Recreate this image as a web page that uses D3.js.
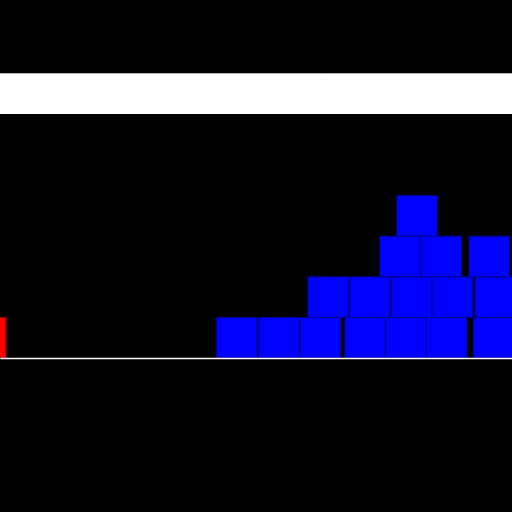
<!DOCTYPE html>
<html>
<head>
<meta charset="utf-8">
<script src="https://cdn.jsdelivr.net/npm/d3@7"></script>
<style>
  body { margin: 0; background: #000; }
  svg { display: block; }
</style>
</head>
<body>
<div id="chart"></div>
<script>
// blue points, in draw order (the stacking depends on it)
var blueValues = [46.27, 54.49, 62.56, 64.10, 71.29, 72.25, 78.13, 79.28, 80.41,
                  81.45, 86.17, 87.25, 88.38, 96.41, 96.74, 95.55];
// red points
var redValues = [-2.79];
// white band segment edges
var bandEdges = [0, 32.03, 41.99, 63.87, 100];

var width = 512, height = 512;
var baseline = 358;
var size = 40.6;

var svg = d3.select("#chart").append("svg")
    .attr("width", width)
    .attr("height", height);

svg.append("rect")
    .attr("width", width)
    .attr("height", height)
    .attr("fill", "#000");

var x = d3.scaleLinear()
    .domain([0, 100])
    .range([0, width]);

// band at the top
svg.append("g")
    .selectAll("rect")
    .data(d3.pairs(bandEdges))
    .enter()
    .append("rect")
    .attr("x", function (d) { return x(d[0]); })
    .attr("width", function (d) { return x(d[1]) - x(d[0]); })
    .attr("y", 73.3)
    .attr("height", 40.7)
    .attr("fill", "#fff");

// greedy stacking: lowest level with no overlapping square
function stack(values) {
    var levels = [];
    return values.map(function (v) {
        var px = x(v);
        var lvl = 0;
        while (levels[lvl] && levels[lvl].some(function (p) {
            return Math.abs(p - px) < size * 0.95;
        })) lvl++;
        if (!levels[lvl]) levels[lvl] = [];
        levels[lvl].push(px);
        return {value: v, level: lvl};
    });
}

function drawSquares(values, fill, stroke) {
    svg.append("g")
        .selectAll("rect")
        .data(stack(values))
        .enter()
        .append("rect")
        .attr("x", function (d) { return x(d.value) - size / 2; })
        .attr("y", function (d) { return baseline - (d.level + 1) * size; })
        .attr("width", size)
        .attr("height", size)
        .attr("fill", fill)
        .attr("stroke", stroke)
        .attr("stroke-width", 1);
}

drawSquares(blueValues, "#0000ff", "#00008b");
drawSquares(redValues, "#ff0000", "#8b0000");

// baseline
svg.append("g")
    .attr("transform", "translate(0," + baseline + ")")
    .call(d3.axisBottom(x).tickValues([]).tickSizeOuter(0))
    .select(".domain")
    .attr("stroke", "#fff")
    .attr("stroke-width", 1.5);
</script>
</body>
</html>
